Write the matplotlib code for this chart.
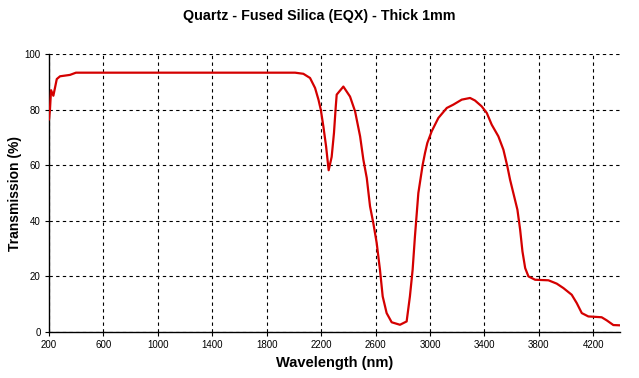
import matplotlib.pyplot as plt
import numpy as np

### Data
wavelength_nm = [200, 207, 215, 232, 257, 281, 354, 398, 2008, 2069, 2118, 2155,
                 2180, 2197, 2216, 2236, 2255, 2277, 2294, 2307, 2314, 2363, 2412,
                 2449, 2486, 2510, 2535, 2559, 2583, 2608, 2632, 2652, 2681, 2718,
                 2779, 2828, 2852, 2872, 2889, 2914, 2946, 2963, 2980, 3012, 3061,
                 3123, 3171, 3233, 3294, 3330, 3379, 3417, 3453, 3502, 3539, 3568,
                 3588, 3612, 3642, 3662, 3679, 3699, 3723, 3772, 3870, 3931, 3980,
                 4041, 4078, 4115, 4163, 4261, 4298, 4347, 4396]
transmission = [76.5, 80, 87, 85, 91, 92, 92.5, 93.3, 93.3, 92.9, 91.4, 87.8,
                83.6, 80, 74, 66.8, 58.2, 63, 71.6, 81, 85.4, 88.3, 84.7,
                79.4, 70.4, 62, 55.4, 45.2, 39.2, 32, 22.4, 12.8, 6.8, 3.5,
                2.6, 3.8, 12.8, 22.4, 34.4, 50, 60.2, 64.4, 68, 72.2, 77,
                80.6, 81.8, 83.6, 84.2, 83.3, 81.2, 78.8, 74.6, 70.4, 65.6, 59.6,
                54.8, 50, 44, 36.8, 29, 23, 20, 18.8, 18.6, 17.4, 15.8,
                13.4, 10.4, 6.8, 5.6, 5.3, 4.2, 2.5, 2.4]
x_ticks = [200, 600, 1000, 1400, 1800, 2200, 2600, 3000, 3400, 3800, 4200]
y_ticks = [0, 20, 40, 60, 80, 100]

plt.rcParams['font.family'] = ['Liberation Sans', 'DejaVu Sans']

def main():
    fig = plt.figure(figsize=(6.39, 3.78), dpi=100)
    ax = fig.add_axes([0.0767, 0.1217, 0.8936, 0.7353])

    ax.plot(wavelength_nm, transmission, color="#d40000", linewidth=1.6, zorder=3)

    ax.set_xlim(200, 4396)
    ax.set_ylim(0, 100)
    ax.set_xticks(x_ticks)
    ax.set_yticks(y_ticks)
    ax.tick_params(labelsize=7, length=3, width=0.8, direction="out", pad=3)
    ax.grid(True, color="black", linestyle=(0, (3, 3)), linewidth=0.8)
    ax.set_axisbelow(True)

    for side in ["top", "right"]:
        ax.spines[side].set_visible(False)
    for side in ["left", "bottom"]:
        ax.spines[side].set_linewidth(1.0)

    ax.set_xlabel("Wavelength (nm)", fontsize=10.5, fontweight="bold", labelpad=4)
    ax.set_ylabel("Transmission (%)", fontsize=10, fontweight="bold")
    ax.yaxis.set_label_coords(-0.047, 0.5)
    fig.text(0.5, 0.957, "Quartz - Fused Silica (EQX) - Thick 1mm",
             ha="center", va="center", fontsize=10.3, fontweight="bold")

    fig.savefig("out.png", dpi=100)

if __name__ == "__main__":
    main()
